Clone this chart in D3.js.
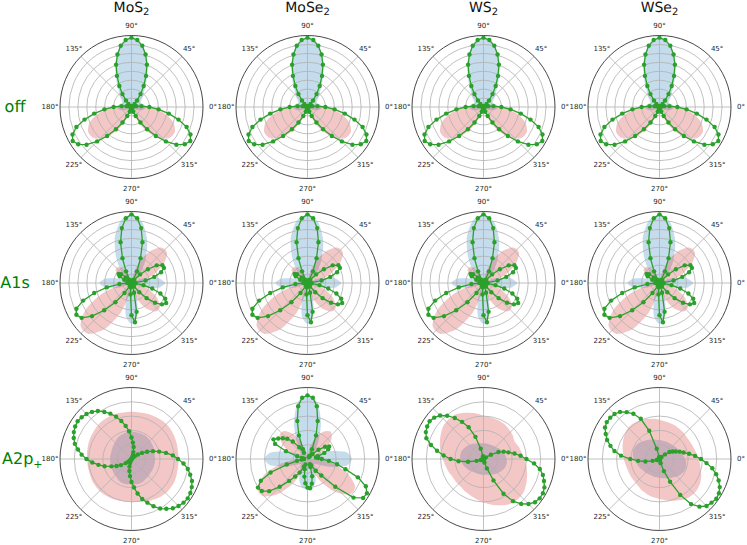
<!DOCTYPE html>
<html>
<head>
<meta charset="utf-8">
<script src="https://d3js.org/d3.v7.min.js"></script>
<style>
  body { margin: 0; background: #fff; }
  text { font-family: "DejaVu Sans", sans-serif; text-rendering: geometricPrecision; }
</style>
</head>
<body>
<svg id="chart" width="747" height="545"></svg>
<script>
// column titles and row labels
var materials = ["MoS", "MoSe", "WS", "WSe"];
var rowNames = ["off", "A1s", "A2p"];

// polar angles (degrees) of the sampled points
var angles5 = [0,5,10,15,20,25,30,35,40,45,50,55,60,65,70,75,80,85,90,95,100,105,110,115,120,125,130,135,140,145,150,155,160,165,170,175,
               180,185,190,195,200,205,210,215,220,225,230,235,240,245,250,255,260,265,270,275,280,285,290,295,300,305,310,315,320,325,330,335,340,345,350,355];
var angles10 = [0,10,20,30,40,50,60,70,80,90,100,110,120,130,140,150,160,170,180,190,200,210,220,230,240,250,260,270,280,290,300,310,320,330,340,350];

// row "off" (same in every column)
var greenOff = [0.25,0.14,0.07,0.03,0.01,0,0,0,0.02,0.06,0.12,0.22,0.34,0.48,0.63,0.76,0.87,0.94,0.97,0.94,0.87,0.76,0.63,0.48,0.34,0.22,0.12,0.06,0.02,0,0,0,
                0.01,0.03,0.07,0.14,0.25,0.38,0.53,0.68,0.82,0.91,0.95,0.91,0.82,0.68,0.53,0.38,0.25,0.14,0.07,0.03,0.01,0,0,0,
                0.01,0.03,0.07,0.14,0.25,0.38,0.53,0.68,0.82,0.91,0.95,0.91,0.82,0.68,0.53,0.38];
var blueOff = [0.2,0.18,0.15,0.15,0.2,0.27,0.42,0.66,0.88,0.96,0.88,0.66,0.42,0.27,0.2,0.15,0.15,0.18,0.2,0.18,0.14,0.08,0.03,0.01,0,0,0,0,0,0,0,0.01,0.03,0.08,0.14,0.18];
var redOff = [0.22,0.08,0.02,0,0,0,0,0,0,0,0,0,0,0,0,0,0.02,0.08,0.22,0.45,0.62,0.7,0.68,0.55,0.35,0.15,0.04,0,0.04,0.15,0.35,0.55,0.68,0.7,0.62,0.45];

// row "A1s"
var greenA1s = [0.02,0.05,0.2,0.33,0.44,0.5,0.5,0.43,0.3,0.17,0.06,0.02,0.05,0.18,0.37,0.59,0.78,0.91,0.96,0.91,0.78,0.59,0.37,0.18,0.05,0.02,
                0.04,0.11,0.19,0.22,0.19,0.11,0.05,0.03,0.03,0.03,0.06,0.17,0.35,0.54,0.72,0.85,0.89,0.85,0.72,0.54,0.35,0.17,0.05,0.02,0.02,0.03,
                0.06,0.16,0.45,0.55,0.41,0.14,0.03,0.01,0.02,0.06,0.17,0.3,0.43,0.52,0.56,0.52,0.43,0.3,0.17,0.06];
var blueA1s = [0.47,0.38,0.2,0.06,0.1,0.22,0.4,0.64,0.86,0.95,0.88,0.68,0.44,0.24,0.1,0.05,0.18,0.36,0.45,0.36,0.18,0.05,0.02,0.03,0.06,0.22,0.46,0.57,0.46,0.22,0.06,0.03,0.02,0.05,0.18,0.38];
var redA1s = [0.02,0.1,0.31,0.51,0.65,0.65,0.51,0.31,0.1,0.02,0.05,0.14,0.23,0.29,0.29,0.23,0.14,0.05,0.02,0.15,0.44,0.74,0.93,0.93,0.74,0.44,0.15,0.02,0.08,0.25,0.41,0.52,0.52,0.41,0.25,0.08];

// row "A2p+", one set per column
var greenA2pMoS2 = [0.65,0.58,0.49,0.4,0.32,0.24,0.17,0.11,0.06,0.03,0.01,0,
                    0.01,0.03,0.06,0.1,0.17,0.23,0.3,0.39,0.47,0.55,0.63,0.7,0.76,0.82,0.86,0.89,0.91,0.92,0.91,0.89,0.86,0.82,0.76,0.7,0.63,0.55,0.47,0.39,0.3,0.23,0.17,0.1,0.06,0.03,0.01,0,
                    0.01,0.03,0.06,0.11,0.17,0.24,0.32,0.4,0.49,0.58,0.65,0.73,0.8,0.85,0.9,0.93,0.95,0.96,0.95,0.93,0.9,0.85,0.8,0.73];
var blueA2pMoS2 = [0.33,0.33,0.34,0.35,0.36,0.37,0.38,0.38,0.38,0.38,0.38,0.37,0.36,0.34,0.32,0.31,0.3,0.3,0.3,0.3,0.3,0.31,0.32,0.33,0.35,0.36,0.36,0.36,0.36,0.36,0.35,0.34,0.33,0.33,0.33,0.33];
var redA2pMoS2 = [0.66,0.66,0.67,0.68,0.69,0.69,0.68,0.67,0.66,0.66,0.66,0.67,0.67,0.67,0.66,0.65,0.64,0.63,0.62,0.62,0.62,0.63,0.63,0.63,0.62,0.61,0.6,0.6,0.61,0.63,0.65,0.67,0.68,0.68,0.67,0.66];

var greenA2pMoSe2 = [0.2,0.15,0.12,0.15,0.25,0.32,0.35,0.3,0.2,0.1,0.05,0.03,
                     0.05,0.15,0.35,0.55,0.75,0.86,0.89,0.86,0.75,0.55,0.35,0.15,0.1,
                     0.2,0.32,0.4,0.45,0.5,0.55,0.5,0.32,0.15,0.08,
                     0.05,0.05,0.08,0.15,0.3,0.55,0.72,0.8,0.78,0.7,0.55,0.4,0.3,0.22,0.12,0.08,
                     0.15,0.25,0.34,0.4,0.41,0.35,0.25,0.12,0.08,
                     0.1,0.2,0.3,0.55,0.84,0.95,0.96,0.9,0.75,0.55,0.42,0.3];
var blueA2pMoSe2 = [0.62,0.55,0.32,0.15,0.12,0.18,0.32,0.55,0.8,0.89,0.8,0.55,0.32,0.18,0.12,0.15,0.3,0.52,0.6,0.52,0.3,0.15,0.12,0.15,0.22,0.33,0.41,0.43,0.41,0.33,0.22,0.15,0.12,0.15,0.32,0.55];
var redA2pMoSe2 = [0.13,0.03,0.15,0.3,0.44,0.5,0.44,0.3,0.15,0.03,0.09,0.24,0.4,0.51,0.51,0.4,0.24,0.09,0.14,0.38,0.64,0.81,0.81,0.64,0.38,0.14,0.12,0.15,0.12,0.13,0.36,0.6,0.77,0.77,0.6,0.36];

var greenA2pWS2 = [0.6,0.52,0.44,0.36,0.3,0.23,0.12,0.04,0.02,
                   0.01,0.01,0.01,0.01,0.01,0.01,0.01,0.01,0.01,
                   0.01,0.02,0.04,0.15,0.33,0.49,0.6,0.7,0.79,0.86,0.9,0.92,0.91,0.89,0.85,0.76,0.66,0.56,0.46,0.35,0.22,0.1,0.04,0.02,
                   0.01,0.01,0.01,0.01,0.01,0.01,0.01,0.01,0.01,0.01,0.01,0.01,0.01,0.01,
                   0.02,0.05,0.14,0.33,0.56,0.72,0.82,0.89,0.94,0.96,0.96,0.94,0.9,0.86,0.8,0.71];
var blueA2pWS2 = [0.325,0.31,0.29,0.27,0.25,0.235,0.225,0.22,0.22,0.22,0.225,0.235,0.25,0.27,0.29,0.31,0.325,0.33,0.325,0.31,0.29,0.27,0.25,0.235,0.225,0.22,0.22,0.22,0.225,0.235,0.25,0.27,0.29,0.31,0.325,0.33];
var redA2pWS2 = [0.57,0.54,0.52,0.5,0.53,0.55,0.57,0.58,0.59,0.61,0.65,0.69,0.73,0.74,0.73,0.69,0.65,0.61,0.57,0.54,0.52,0.5,0.5,0.5,0.52,0.54,0.57,0.61,0.65,0.69,0.73,0.74,0.73,0.69,0.65,0.61];

var greenA2pWSe2 = [0.58,0.5,0.42,0.35,0.3,0.25,0.21,0.17,0.1,0.04,0.02,
                    0.01,0.01,0.01,0.01,0.01,0.01,0.01,0.01,0.01,
                    0.03,0.15,0.42,0.62,0.73,0.8,0.86,0.89,0.9,0.9,0.88,0.83,0.78,0.71,0.64,0.54,0.41,0.3,0.2,0.1,0.04,0.02,
                    0.01,0.01,0.01,0.01,0.01,0.01,0.01,0.01,0.01,0.01,0.01,0.01,0.01,0.01,
                    0.02,0.06,0.18,0.35,0.58,0.77,0.87,0.93,0.95,0.97,0.96,0.93,0.88,0.82,0.75,0.66];
var blueA2pWSe2 = [0.36,0.33,0.31,0.29,0.275,0.265,0.26,0.26,0.26,0.265,0.275,0.29,0.31,0.33,0.36,0.38,0.39,0.38,0.36,0.33,0.31,0.29,0.275,0.265,0.26,0.26,0.26,0.265,0.275,0.29,0.31,0.33,0.36,0.38,0.39,0.38];
var redA2pWSe2 = [0.55,0.52,0.5,0.49,0.49,0.5,0.51,0.52,0.53,0.55,0.57,0.59,0.61,0.62,0.61,0.58,0.55,0.52,0.5,0.48,0.47,0.47,0.47,0.48,0.5,0.52,0.54,0.56,0.59,0.62,0.66,0.68,0.68,0.66,0.62,0.58];

var thetaTicks = [0,45,90,135,180,225,270,315];

// grid of panels built from the arrays above
var panels = [
  [[greenOff, blueOff, redOff], [greenOff, blueOff, redOff], [greenOff, blueOff, redOff], [greenOff, blueOff, redOff]],
  [[greenA1s, blueA1s, redA1s], [greenA1s, blueA1s, redA1s], [greenA1s, blueA1s, redA1s], [greenA1s, blueA1s, redA1s]],
  [[greenA2pMoS2, blueA2pMoS2, redA2pMoS2], [greenA2pMoSe2, blueA2pMoSe2, redA2pMoSe2],
   [greenA2pWS2, blueA2pWS2, redA2pWS2], [greenA2pWSe2, blueA2pWSe2, redA2pWSe2]]
];

var R = 71.5;
var colX = [131.5, 307.5, 483.5, 659.5];
var rowY = [107, 283, 459];
var rScale = d3.scaleLinear().domain([0, 1]).range([0, R]);
var ringTicks = [[0.125,0.25,0.375,0.5,0.625,0.75,0.875], [0.125,0.25,0.375,0.5,0.625,0.75,0.875], [0.2,0.4,0.6,0.8]];

// matplotlib polar: 0 deg east, counter-clockwise; d3 radial: 0 north, clockwise
function ang(deg) { return (90 - deg) * Math.PI / 180; }

var svg = d3.select("#chart");

var fillLine = d3.lineRadial()
    .angle(function(d) { return ang(d[0]); })
    .radius(function(d) { return rScale(d[1]); })
    .curve(d3.curveCardinalClosed.tension(0.2));

var greenLine = d3.lineRadial()
    .angle(function(d) { return ang(d[0]); })
    .radius(function(d) { return rScale(d[1]); })
    .curve(d3.curveLinearClosed);

panels.forEach(function(row, ri) {
  row.forEach(function(p, ci) {
    var g = svg.append("g").attr("transform", "translate(" + colX[ci] + "," + rowY[ri] + ")");
    var green = angles5.map(function(a, i) { return [a, p[0][i]]; });
    var blue = angles10.map(function(a, i) { return [a, p[1][i]]; });
    var red = angles10.map(function(a, i) { return [a, p[2][i]]; });

    // fills
    g.append("path").attr("d", fillLine(blue)).attr("fill", "#1f77b4").attr("fill-opacity", 0.26);
    g.append("path").attr("d", fillLine(red)).attr("fill", "#d62728").attr("fill-opacity", 0.26);

    // grid
    g.selectAll(".ring").data(ringTicks[ri]).enter().append("circle")
      .attr("r", function(d) { return rScale(d); })
      .attr("fill", "none").attr("stroke", "#b0b0b0").attr("stroke-width", 0.8);
    g.selectAll(".spoke").data(thetaTicks).enter().append("line")
      .attr("x1", 0).attr("y1", 0)
      .attr("x2", function(d) { return d3.pointRadial(ang(d), R)[0]; })
      .attr("y2", function(d) { return d3.pointRadial(ang(d), R)[1]; })
      .attr("stroke", "#b0b0b0").attr("stroke-width", 0.8);
    g.append("circle").attr("r", R).attr("fill", "none").attr("stroke", "#333").attr("stroke-width", 0.9);

    // measured curve
    g.append("path").attr("d", greenLine(green)).attr("fill", "none")
      .attr("stroke", "#2ca02c").attr("stroke-width", 1.3);
    g.selectAll(".dot").data(green).enter().append("circle")
      .attr("cx", function(d) { return d3.pointRadial(ang(d[0]), rScale(d[1]))[0]; })
      .attr("cy", function(d) { return d3.pointRadial(ang(d[0]), rScale(d[1]))[1]; })
      .attr("r", 2.2).attr("fill", "#2ca02c");

    // angle labels
    g.selectAll(".tl").data(thetaTicks).enter().append("text")
      .attr("x", function(d) { return d3.pointRadial(ang(d), R + 10)[0]; })
      .attr("y", function(d) { return d3.pointRadial(ang(d), R + 10)[1]; })
      .attr("text-anchor", "middle").attr("dominant-baseline", "central")
      .attr("font-size", 7).attr("fill", "#262626")
      .text(function(d) { return d + "°"; });
  });
});

// column titles
materials.forEach(function(m, ci) {
  var t = svg.append("text").attr("x", colX[ci]).attr("y", 12)
    .attr("text-anchor", "middle").attr("font-size", 14).attr("fill", "#111");
  t.append("tspan").text(m);
  t.append("tspan").attr("font-size", 10).attr("dy", 3).text("2");
});

// row labels
rowNames.forEach(function(n, ri) {
  var t = svg.append("text").attr("y", rowY[ri] + 5)
    .attr("font-size", 16).attr("fill", "green");
  if (ri === 2) {
    t.attr("x", 2).attr("text-anchor", "start");
  } else {
    t.attr("x", 15).attr("text-anchor", "middle");
  }
  t.append("tspan").text(n);
  if (ri === 2) t.append("tspan").attr("font-size", 11).attr("dy", 4).text("+");
});
</script>
</body>
</html>
